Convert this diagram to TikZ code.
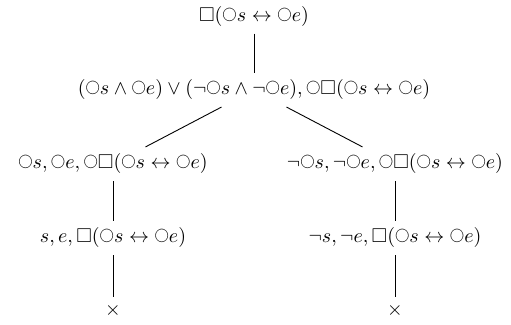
\documentclass[tikz,border=0pt]{standalone}
\usepackage{amssymb}
\usepackage{graphicx}
% small "next" operator of temporal logic
\newcommand{\nxt}{\mathord{\raisebox{1.6pt}{\scalebox{0.72}{$\bigcirc$}}}}
\begin{document}
\begin{tikzpicture}[x=0.5pt,y=-0.5pt,
  formula/.style={inner sep=3.33pt},
  branch/.style={draw, line width=0.45pt}]
\useasboundingbox (0,0) rectangle (511,325);

% formulas of the tableau
\node[formula] (root) at (254,16.5) {$\Box(\nxt s\leftrightarrow\nxt e)$};
\node[formula] (exp)  at (254,90)
  {$(\nxt s\wedge\nxt e)\vee(\neg\nxt s\wedge\neg\nxt e),\nxt\Box(\nxt s\leftrightarrow\nxt e)$};
\node[formula] (l1) at (113,164) {$\nxt s,\nxt e,\nxt\Box(\nxt s\leftrightarrow\nxt e)$};
\node[formula] (r1) at (395,164) {$\neg\nxt s,\neg\nxt e,\nxt\Box(\nxt s\leftrightarrow\nxt e)$};
\node[formula] (l2) at (113,238) {$s,e,\Box(\nxt s\leftrightarrow\nxt e)$};
\node[formula] (r2) at (395,238) {$\neg s,\neg e,\Box(\nxt s\leftrightarrow\nxt e)$};
\node[formula] (lx) at (113,311) {$\times$};
\node[formula] (rx) at (395,311) {$\times$};

% branches
\path[branch] (root) -- (exp);
\path[branch] (exp) -- (l1);
\path[branch] (exp) -- (r1);
\path[branch] (l1) -- (l2);
\path[branch] (r1) -- (r2);
\path[branch] (l2) -- (lx);
\path[branch] (r2) -- (rx);
\end{tikzpicture}
\end{document}
